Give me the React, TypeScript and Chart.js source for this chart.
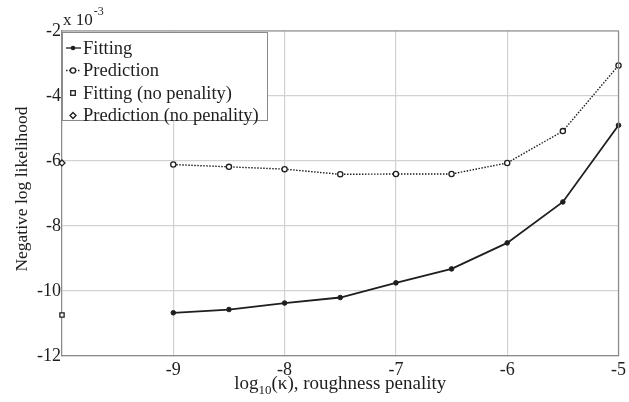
import { useEffect, useRef } from 'react';
import { Chart, registerables } from 'chart.js';

Chart.register(...registerables);

// log10(kappa) values of the roughness penalty
const kappaLog = [-9, -8.5, -8, -7.5, -7, -6.5, -6, -5.5, -5];
// Negative log likelihood, in units of 1e-3
const fitting = [-10.67, -10.57, -10.37, -10.2, -9.75, -9.32, -8.52, -7.26, -4.9];
const prediction = [-6.11, -6.18, -6.25, -6.41, -6.4, -6.4, -6.06, -5.08, -3.06];
// Unpenalised reference values, shown at the left edge
const noPenaltyX = -10;
const fittingNoPenalty = -10.74;
const predictionNoPenalty = -6.06;

const xTicks = [-10, -9, -8, -7, -6, -5];
const yTicks = [-12, -10, -8, -6, -4, -2];
const legendLabels = ['Fitting', 'Prediction', 'Fitting (no penality)', 'Prediction (no penality)'];

const FONT = '"Liberation Serif", "DejaVu Serif", serif';
const INK = '#1e1e1e';

function drawMarker(ctx: CanvasRenderingContext2D, kind: number, x: number, y: number) {
  ctx.save();
  ctx.strokeStyle = INK;
  ctx.lineWidth = 1.3;
  if (kind === 0) {
    ctx.fillStyle = INK;
    ctx.beginPath();
    ctx.arc(x, y, 2.3, 0, Math.PI * 2);
    ctx.fill();
  } else if (kind === 1) {
    ctx.fillStyle = '#fff';
    ctx.beginPath();
    ctx.arc(x, y, 2.6, 0, Math.PI * 2);
    ctx.fill();
    ctx.stroke();
  } else if (kind === 2) {
    ctx.fillStyle = '#fff';
    ctx.fillRect(x - 2.3, y - 2.3, 4.6, 4.6);
    ctx.strokeRect(x - 2.3, y - 2.3, 4.6, 4.6);
  } else {
    ctx.fillStyle = '#fff';
    ctx.beginPath();
    ctx.moveTo(x, y - 3);
    ctx.lineTo(x + 3, y);
    ctx.lineTo(x, y + 3);
    ctx.lineTo(x - 3, y);
    ctx.closePath();
    ctx.fill();
    ctx.stroke();
  }
  ctx.restore();
}

const decorations = {
  id: 'decorations',
  afterDraw(chart: Chart) {
    const { ctx, chartArea } = chart;
    const { left, top, right, bottom } = chartArea;
    ctx.save();

    // legend box
    const bx = left;
    const by = top + 1;
    const bw = 205;
    const bh = 88;
    ctx.fillStyle = '#fff';
    ctx.fillRect(bx, by, bw, bh);
    ctx.strokeStyle = '#8a8a8a';
    ctx.lineWidth = 1;
    ctx.strokeRect(bx + 0.5, by + 0.5, bw, bh);
    ctx.font = `18.5px ${FONT}`;
    ctx.textBaseline = 'middle';
    ctx.textAlign = 'left';
    legendLabels.forEach((label, i) => {
      const cy = by + 16 + i * 22.5;
      ctx.strokeStyle = INK;
      ctx.lineWidth = 1.3;
      if (i === 0) {
        ctx.setLineDash([]);
        ctx.beginPath();
        ctx.moveTo(bx + 4, cy);
        ctx.lineTo(bx + 19, cy);
        ctx.stroke();
      } else if (i === 1) {
        ctx.setLineDash([1.5, 1.5]);
        ctx.beginPath();
        ctx.moveTo(bx + 4, cy);
        ctx.lineTo(bx + 19, cy);
        ctx.stroke();
        ctx.setLineDash([]);
      }
      drawMarker(ctx, i, bx + 11, cy);
      ctx.fillStyle = INK;
      ctx.fillText(label, bx + 21, cy + 1);
    });

    // exponent label above the y axis
    ctx.fillStyle = INK;
    ctx.textBaseline = 'alphabetic';
    ctx.font = `17px ${FONT}`;
    ctx.fillText('x 10', left + 1, top - 6);
    const w = ctx.measureText('x 10').width;
    ctx.font = `12px ${FONT}`;
    ctx.fillText('-3', left + 2 + w, top - 16);

    // x axis title with subscript
    const xFont = `19px ${FONT}`;
    const subFont = `13px ${FONT}`;
    const parts = [
      { t: 'log', f: xFont, dy: 0 },
      { t: '10', f: subFont, dy: 5 },
      { t: '(\u03BA), roughness penality', f: xFont, dy: 0 },
    ];
    let total = 0;
    parts.forEach((p) => {
      ctx.font = p.f;
      total += ctx.measureText(p.t).width;
    });
    let x = (left + right) / 2 - total / 2;
    const baseY = bottom + 33;
    parts.forEach((p) => {
      ctx.font = p.f;
      ctx.fillText(p.t, x, baseY + p.dy);
      x += ctx.measureText(p.t).width;
    });

    // y axis title
    ctx.translate(22, 189);
    ctx.rotate(-Math.PI / 2);
    ctx.font = `17.5px ${FONT}`;
    ctx.textAlign = 'center';
    ctx.textBaseline = 'middle';
    ctx.fillText('Negative log likelihood', 0, 0);
    ctx.restore();
  },
};

export default function App() {
  const ref = useRef<HTMLCanvasElement | null>(null);

  useEffect(() => {
    if (!ref.current) return;
    const chart = new Chart(ref.current, {
      type: 'line',
      data: {
        datasets: [
          {
            label: 'Fitting',
            data: kappaLog.map((x, i) => ({ x, y: fitting[i] })),
            borderColor: INK,
            backgroundColor: INK,
            borderWidth: 1.8,
            pointStyle: 'circle',
            pointRadius: 2.3,
            pointBorderWidth: 1,
            pointBackgroundColor: INK,
            pointBorderColor: INK,
            tension: 0,
            clip: false,
          },
          {
            label: 'Prediction',
            data: kappaLog.map((x, i) => ({ x, y: prediction[i] })),
            borderColor: INK,
            borderWidth: 1.4,
            borderDash: [1.5, 1.5],
            pointStyle: 'circle',
            pointRadius: 2.6,
            pointBorderWidth: 1.3,
            pointBackgroundColor: '#fff',
            pointBorderColor: INK,
            tension: 0,
            clip: false,
          },
          {
            label: 'Fitting (no penality)',
            data: [{ x: noPenaltyX, y: fittingNoPenalty }],
            showLine: false,
            pointStyle: 'rect',
            pointRadius: 3,
            pointBorderWidth: 1.3,
            pointBackgroundColor: '#fff',
            pointBorderColor: INK,
            clip: false,
          },
          {
            label: 'Prediction (no penality)',
            data: [{ x: noPenaltyX, y: predictionNoPenalty }],
            showLine: false,
            pointStyle: 'rectRot',
            pointRadius: 3,
            pointBorderWidth: 1.3,
            pointBackgroundColor: '#fff',
            pointBorderColor: INK,
            clip: false,
          },
        ],
      },
      options: {
        animation: false,
        responsive: false,
        layout: { padding: { top: 31, right: 8, left: 0, bottom: 0 } },
        plugins: {
          legend: { display: false },
          tooltip: { enabled: false },
        },
        scales: {
          x: {
            type: 'linear',
            min: xTicks[0],
            max: xTicks[xTicks.length - 1],
            afterBuildTicks: (s: any) => {
              s.ticks = xTicks.map((v) => ({ value: v }));
            },
            afterFit: (s: any) => {
              s.height = 46;
            },
            ticks: {
              color: INK,
              font: { family: FONT, size: 18 },
              padding: 3,
              maxRotation: 0,
              callback: (v: any) => (v === xTicks[0] ? '' : String(v)),
            },
            grid: { color: '#d2d2d2', lineWidth: 1.2, tickLength: 0 },
            border: { color: '#8a8a8a', width: 1.2 },
          },
          y: {
            type: 'linear',
            min: yTicks[0],
            max: yTicks[yTicks.length - 1],
            afterBuildTicks: (s: any) => {
              s.ticks = yTicks.map((v) => ({ value: v }));
            },
            afterFit: (s: any) => {
              s.width = 62;
            },
            ticks: {
              color: INK,
              font: { family: FONT, size: 18 },
              padding: 1,
              callback: (v: any) => String(v),
            },
            grid: { color: '#d2d2d2', lineWidth: 1.2, tickLength: 0 },
            border: { color: '#8a8a8a', width: 1.2 },
          },
        },
      },
      plugins: [
        {
          id: 'frame',
          afterDatasetsDraw(chart: Chart) {
            const { ctx, chartArea } = chart;
            ctx.save();
            ctx.strokeStyle = '#8a8a8a';
            ctx.lineWidth = 1.2;
            ctx.beginPath();
            ctx.moveTo(chartArea.left, chartArea.top);
            ctx.lineTo(chartArea.right, chartArea.top);
            ctx.lineTo(chartArea.right, chartArea.bottom);
            ctx.stroke();
            ctx.restore();
          },
        },
        decorations,
      ],
    });
    return () => chart.destroy();
  }, []);

  return (
    <div style={{ position: 'fixed', left: 0, top: 0, width: 629, height: 402, background: '#fff' }}>
      <canvas ref={ref} width={629} height={402} style={{ display: 'block' }} />
    </div>
  );
}
